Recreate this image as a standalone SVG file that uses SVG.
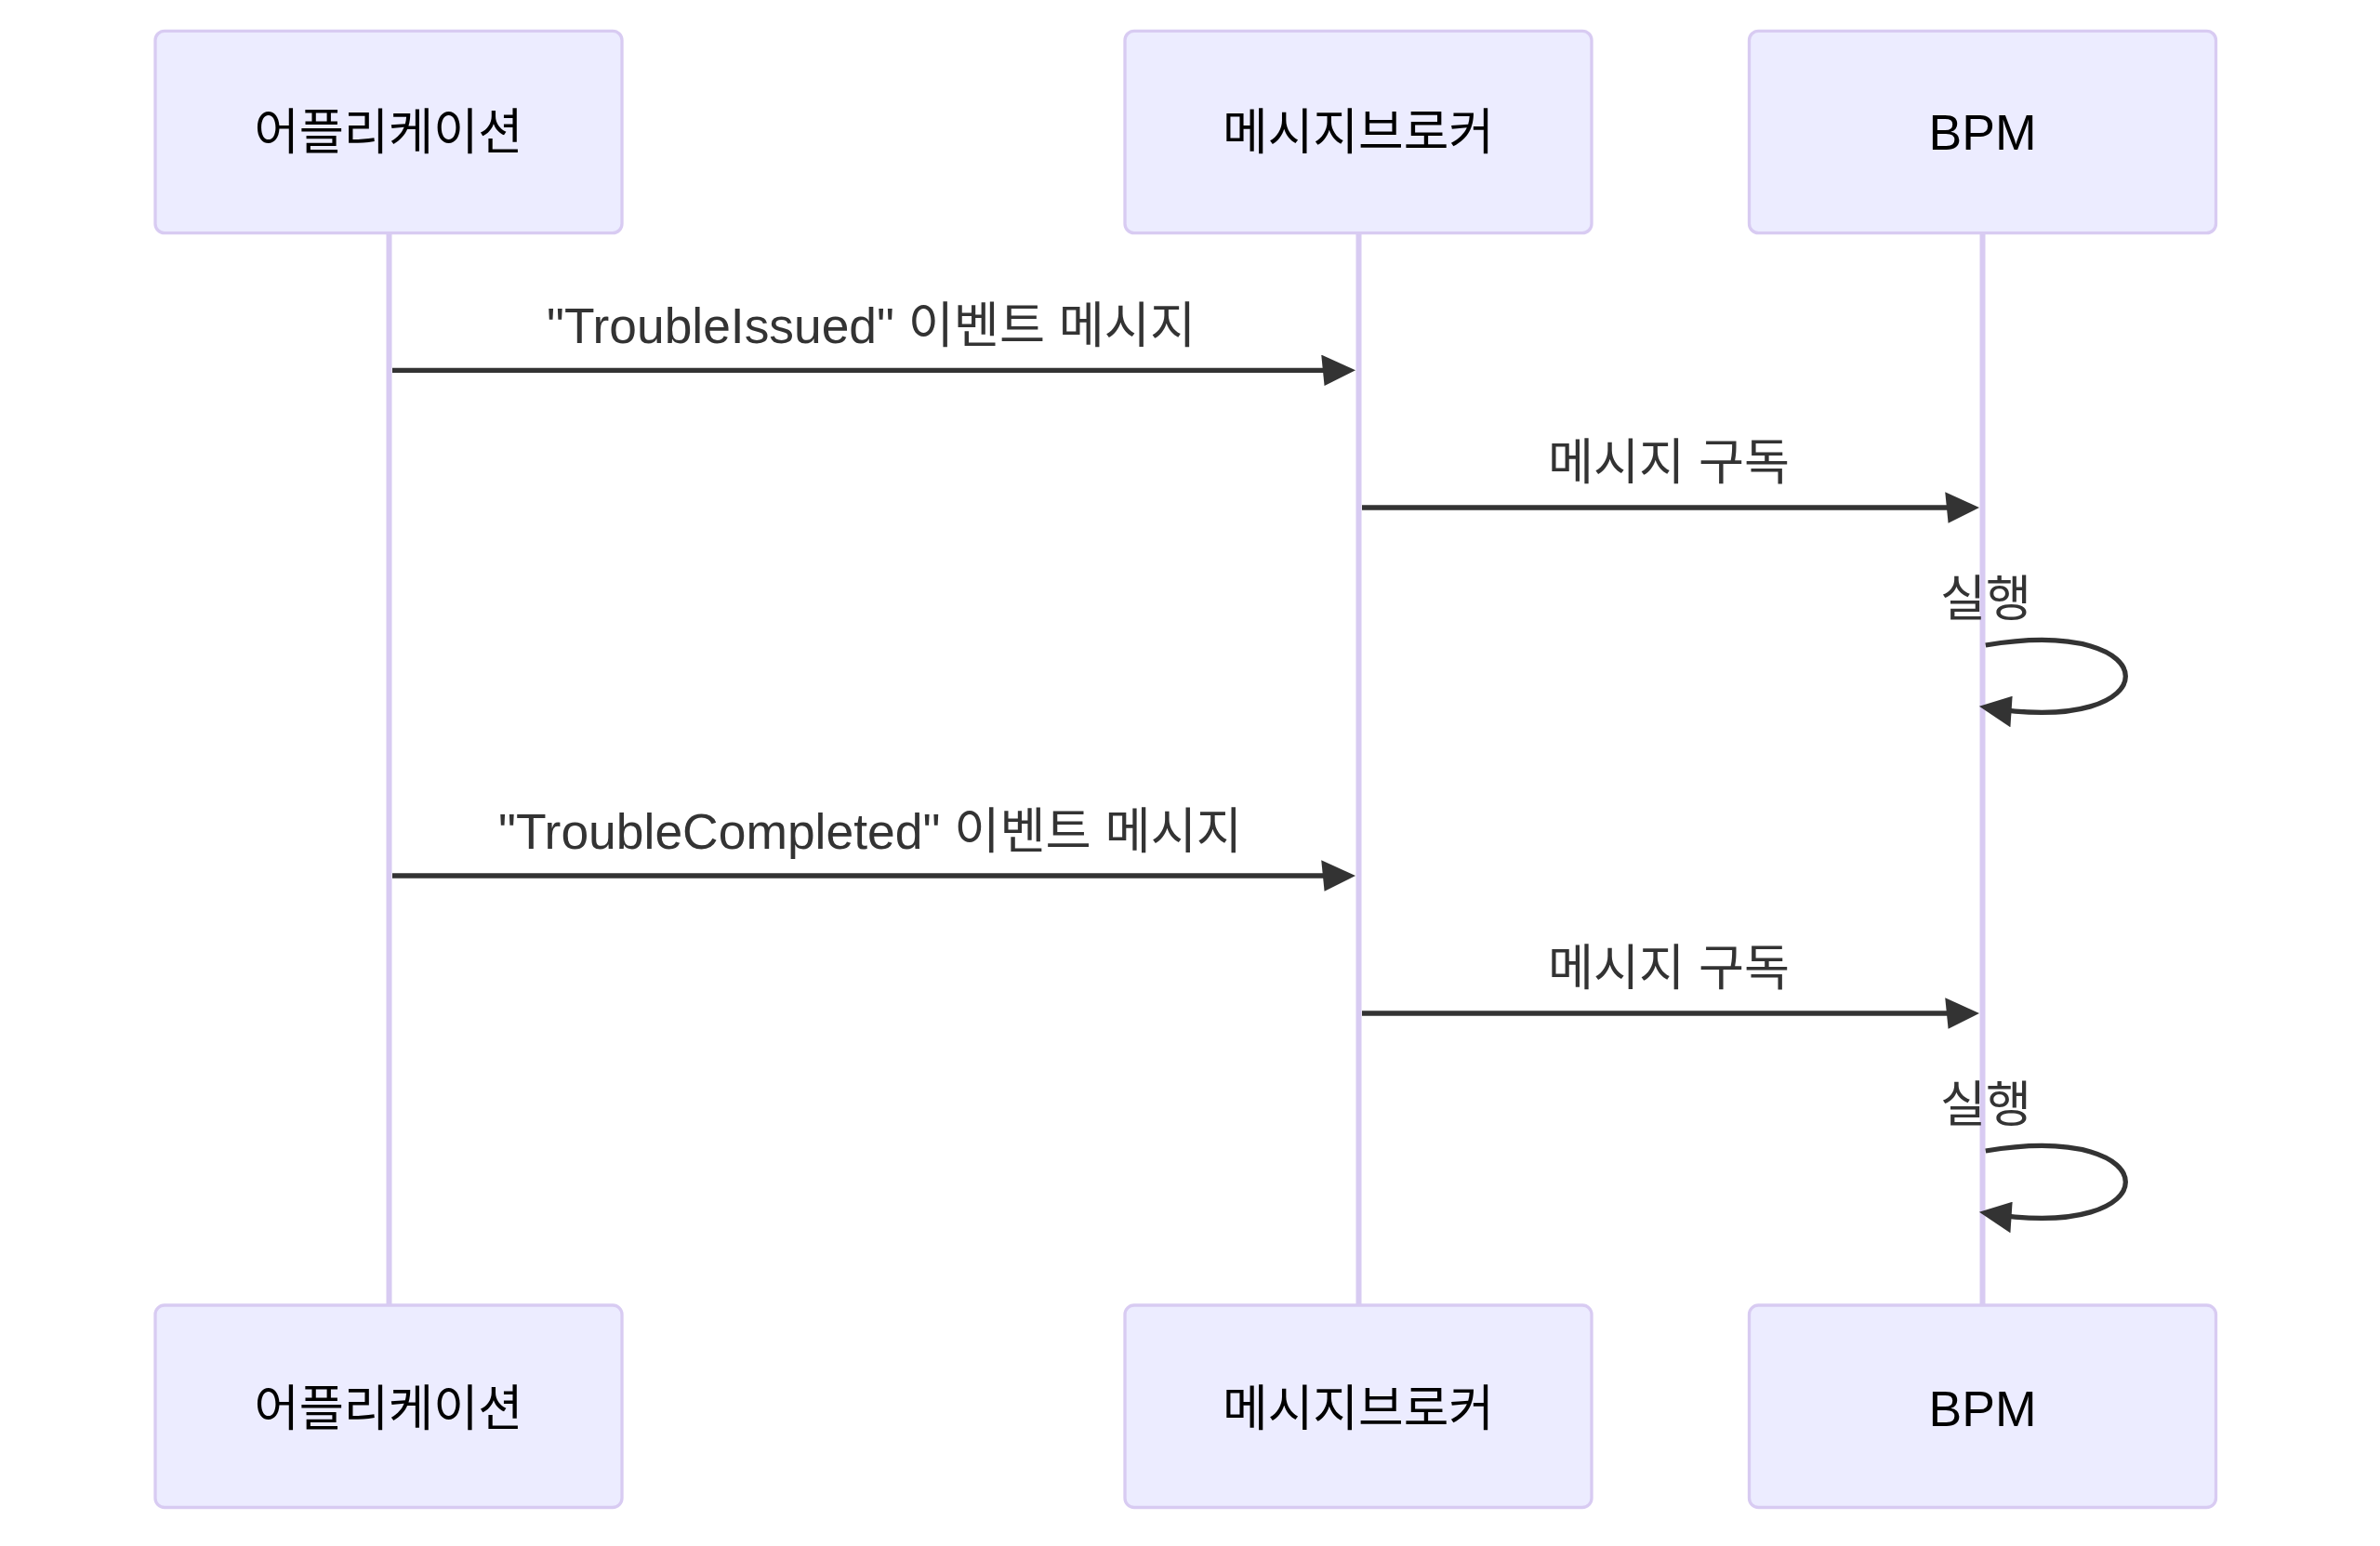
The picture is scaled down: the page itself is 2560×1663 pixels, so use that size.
<svg xmlns="http://www.w3.org/2000/svg" width="2560" height="1663" viewBox="0 0 2560 1663">
<style>
.actor{fill:#ECECFF;stroke:hsl(259.6,59.77%,87.25%);stroke-width:3.3}
.actor-text{font-family:"Liberation Sans","Noto Sans CJK KR",Arial,sans-serif;font-size:53.5px;fill:#000;text-anchor:middle;dominant-baseline:central}
.lifeline{stroke:hsl(259.6,59.77%,87.25%);stroke-width:6;fill:none}
.msg{stroke:#333;stroke-width:5.3;fill:none;marker-end:url(#arrowhead)}
.msg-text{font-family:"Liberation Sans","Noto Sans CJK KR",Arial,sans-serif;font-size:53.5px;fill:#333;text-anchor:middle}
</style>
<defs>
<marker id="arrowhead" viewBox="-1 0 12 10" refX="7.9" refY="5" markerUnits="userSpaceOnUse" markerWidth="40.14" markerHeight="33.45" orient="auto">
<path d="M -1 0 L 10 5 L 0 10 z" fill="#333"/>
</marker>
</defs>
<rect width="2560" height="1663" fill="#ffffff"/>
<g id="lifelines">
<line class="lifeline" x1="418.5" y1="251" x2="418.5" y2="1404"/>
<line class="lifeline" x1="1461.5" y1="251" x2="1461.5" y2="1404"/>
<line class="lifeline" x1="2132.5" y1="251" x2="2132.5" y2="1404"/>
</g>
<g id="actor-app-top">
<rect class="actor" x="167" y="33.3" width="502" height="217.4" rx="10" ry="10"/>
<text class="actor-text" x="418" y="142" textLength="289" lengthAdjust="spacingAndGlyphs">어플리케이션</text>
</g>
<g id="actor-broker-top">
<rect class="actor" x="1210" y="33.3" width="502" height="217.4" rx="10" ry="10"/>
<text class="actor-text" x="1461" y="142" textLength="292" lengthAdjust="spacingAndGlyphs">메시지브로커</text>
</g>
<g id="actor-bpm-top">
<rect class="actor" x="1881.5" y="33.3" width="502" height="217.4" rx="10" ry="10"/>
<text class="actor-text" x="2132.5" y="142">BPM</text>
</g>
<g id="actor-app-bottom">
<rect class="actor" x="167" y="1404" width="502" height="217.5" rx="10" ry="10"/>
<text class="actor-text" x="418" y="1515" textLength="289" lengthAdjust="spacingAndGlyphs">어플리케이션</text>
</g>
<g id="actor-broker-bottom">
<rect class="actor" x="1210" y="1404" width="502" height="217.5" rx="10" ry="10"/>
<text class="actor-text" x="1461" y="1515" textLength="292" lengthAdjust="spacingAndGlyphs">메시지브로커</text>
</g>
<g id="actor-bpm-bottom">
<rect class="actor" x="1881.5" y="1404" width="502" height="217.5" rx="10" ry="10"/>
<text class="actor-text" x="2132.5" y="1515">BPM</text>
</g>
<g id="connectors">
<text class="msg-text" x="937" y="369" textLength="698" lengthAdjust="spacingAndGlyphs">"TroubleIssued" 이벤트 메시지</text>
<line class="msg" x1="422" y1="398.3" x2="1451" y2="398.3"/>
<text class="msg-text" x="1795" y="516" textLength="260" lengthAdjust="spacingAndGlyphs">메시지 구독</text>
<line class="msg" x1="1465" y1="546" x2="2122" y2="546"/>
<text class="msg-text" x="2136" y="663" textLength="98" lengthAdjust="spacingAndGlyphs">실행</text>
<path class="msg" d="M 2135.8,694 C 2336.5,660.6 2336.5,794.4 2135.8,760.9"/>
<text class="msg-text" x="936" y="913" textLength="800" lengthAdjust="spacingAndGlyphs">"TroubleCompleted" 이벤트 메시지</text>
<line class="msg" x1="422" y1="942" x2="1451" y2="942"/>
<text class="msg-text" x="1795" y="1060" textLength="260" lengthAdjust="spacingAndGlyphs">메시지 구독</text>
<line class="msg" x1="1465" y1="1090" x2="2122" y2="1090"/>
<text class="msg-text" x="2136" y="1207" textLength="98" lengthAdjust="spacingAndGlyphs">실행</text>
<path class="msg" d="M 2135.8,1238 C 2336.5,1204.6 2336.5,1338.4 2135.8,1304.9"/>
</g>
</svg>
